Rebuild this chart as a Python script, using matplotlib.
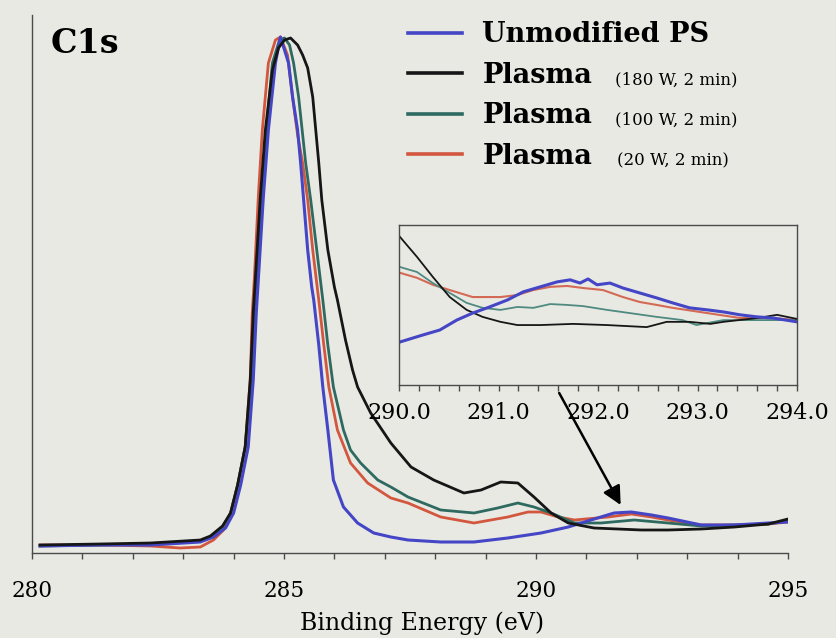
import numpy as np
import matplotlib
matplotlib.use("Agg")
import matplotlib.pyplot as plt
from matplotlib.ticker import MultipleLocator, FormatStrFormatter

plt.rcParams['font.family'] = 'DejaVu Serif'

# C1s spectra, binding energy (eV) and intensity (a.u.)
e_unmod = [280.16, 281.35, 282.35, 283.34, 283.60, 283.84, 284.00, 284.14, 284.29, 284.39,
           284.45, 284.49, 284.59, 284.69, 284.83, 284.93, 285.09, 285.17, 285.27, 285.33,
           285.39, 285.47, 285.55, 285.59, 285.69, 285.77, 285.87, 285.98, 286.18, 286.46,
           286.78, 287.12, 287.46, 288.11, 288.77, 289.44, 290.10, 290.64, 291.09, 291.55,
           291.89, 292.29, 292.62, 293.28, 293.94, 294.61, 295.0]
i_unmod = [7, 8, 8, 11, 16, 25, 40, 68, 106, 173,
           240, 273, 356, 423, 490, 516, 490, 456, 423, 390,
           353, 303, 266, 253, 208, 166, 123, 73, 46, 30,
           20, 16, 13, 11, 11, 15, 20, 26, 33, 40,
           41, 38, 35, 28, 28, 30, 31]

e_180w = [280.16, 281.35, 282.35, 283.34, 283.54, 283.78, 283.94, 284.08, 284.23, 284.33,
          284.39, 284.43, 284.53, 284.63, 284.77, 284.89, 285.01, 285.13, 285.27, 285.37,
          285.47, 285.57, 285.69, 285.75, 285.87, 286.00, 286.06, 286.22, 286.36, 286.46,
          286.56, 286.72, 287.12, 287.52, 287.97, 288.57, 288.91, 289.30, 289.64, 289.96,
          290.30, 290.64, 291.15, 292.09, 292.62, 293.28, 293.94, 294.61, 295.0]
i_180w = [8, 9, 10, 13, 17, 27, 40, 68, 106, 173,
          240, 273, 356, 423, 483, 505, 513, 515, 508, 498,
          485, 456, 390, 353, 303, 266, 253, 213, 183, 166,
          156, 140, 110, 86, 73, 60, 63, 71, 70, 56,
          40, 30, 25, 23, 23, 24, 26, 29, 34]

e_100w = [280.16, 281.35, 282.35, 283.34, 283.54, 283.78, 283.94, 284.08, 284.23, 284.35,
          284.41, 284.45, 284.55, 284.65, 284.77, 284.91, 285.01, 285.11, 285.19, 285.29,
          285.43, 285.53, 285.65, 285.77, 285.87, 285.98, 286.18, 286.32, 286.52, 286.86,
          287.12, 287.46, 288.11, 288.77, 289.24, 289.64, 289.96, 290.30, 290.76, 291.29,
          291.95, 292.62, 293.28, 293.94, 294.61, 295.0]
i_100w = [7, 8, 9, 12, 16, 26, 40, 68, 106, 173,
          240, 273, 356, 423, 490, 513, 515, 508, 490, 456,
          390, 353, 303, 253, 208, 166, 123, 103, 90, 73,
          66, 56, 43, 40, 45, 50, 46, 40, 30, 30,
          33, 30, 27, 28, 29, 32]

e_20w = [280.16, 281.35, 282.35, 282.94, 283.34, 283.60, 283.80, 283.94, 284.08, 284.23,
         284.33, 284.37, 284.41, 284.49, 284.57, 284.69, 284.83, 284.93, 285.07, 285.17,
         285.27, 285.37, 285.47, 285.57, 285.69, 285.79, 285.89, 286.06, 286.32, 286.66,
         287.12, 287.46, 288.11, 288.77, 289.44, 289.84, 290.10, 290.44, 290.76, 291.43,
         291.89, 292.29, 292.62, 293.28, 293.94, 294.61, 295.0]
i_20w = [8, 8, 7, 5, 6, 13, 23, 40, 68, 106,
         173, 240, 273, 356, 423, 490, 513, 516, 498, 456,
         418, 390, 353, 303, 253, 208, 166, 123, 90, 70,
         55, 50, 36, 30, 36, 41, 41, 36, 33, 36,
         39, 36, 33, 28, 28, 29, 31]

# inset: 290-294 eV region, expanded intensity
ie_unmod = [290.01, 290.24, 290.41, 290.58, 290.74, 290.91, 291.09, 291.25, 291.42, 291.59,
            291.72, 291.82, 291.90, 291.99, 292.12, 292.25, 292.42, 292.59, 292.75, 292.92,
            293.10, 293.26, 293.43, 293.60, 293.76, 294.0]
ii_unmod = [20.0, 22.4, 24.1, 27.5, 29.9, 32.0, 34.4, 37.2, 38.9, 40.6,
            41.3, 40.2, 41.6, 39.6, 40.2, 38.5, 36.8, 35.1, 33.4, 31.7,
            31.0, 30.3, 29.3, 28.6, 28.2, 26.9]

ie_180w = [290.01, 290.18, 290.34, 290.51, 290.68, 290.84, 291.02, 291.19, 291.42, 291.75,
           292.09, 292.49, 292.69, 292.92, 293.13, 293.26, 293.60, 293.80, 294.0]
ii_180w = [56.0, 49.2, 42.3, 35.4, 31.0, 28.6, 26.9, 25.8, 25.8, 26.2,
           25.8, 25.1, 26.9, 26.9, 26.2, 26.9, 28.2, 29.3, 27.9]

ie_100w = [290.01, 290.18, 290.34, 290.51, 290.68, 290.84, 291.02, 291.19, 291.35, 291.52,
           291.69, 291.85, 292.09, 292.32, 292.59, 292.85, 292.99, 293.26, 293.60, 294.0]
ii_100w = [45.7, 44.0, 40.2, 36.8, 33.4, 31.7, 31.0, 32.0, 31.7, 33.0,
           32.7, 32.3, 31.0, 29.9, 28.6, 27.5, 25.8, 27.5, 27.5, 27.5]

ie_20w = [290.01, 290.18, 290.34, 290.51, 290.74, 291.02, 291.19, 291.35, 291.52, 291.69,
          291.85, 292.05, 292.25, 292.42, 292.59, 292.75, 293.10, 293.43, 293.76, 294.0]
ii_20w = [43.7, 42.0, 39.6, 37.8, 35.4, 35.4, 36.1, 37.8, 38.9, 39.2,
          38.5, 37.8, 35.4, 33.7, 32.7, 31.7, 29.9, 28.2, 28.2, 27.5]

labels = ["Unmodified PS", "Plasma", "Plasma", "Plasma"]
conditions = ["(180 W, 2 min)", "(100 W, 2 min)", "(20 W, 2 min)"]

bg = '#e9e9e4'
c_blue = '#4446c6'
c_black = '#161616'
c_teal = '#2e6a60'
c_red = '#d2573e'
spine_c = '#4a4a4a'

fig = plt.figure(figsize=(8.36, 6.38), dpi=100, facecolor=bg)
ax = fig.add_axes([32/836, 1 - 553/638, 756/836, 538/638])
ax.set_facecolor('none')

l_red, = ax.plot(e_20w, i_20w, color=c_red, lw=2.0)
l_teal, = ax.plot(e_100w, i_100w, color=c_teal, lw=2.0)
l_blue, = ax.plot(e_unmod, i_unmod, color=c_blue, lw=2.2)
l_black, = ax.plot(e_180w, i_180w, color=c_black, lw=2.0)

ax.set_xlim(280, 295)
ax.set_ylim(0, 538)
for s in ['top', 'right']:
    ax.spines[s].set_visible(False)
for s in ['left', 'bottom']:
    ax.spines[s].set_color(spine_c)
    ax.spines[s].set_linewidth(1.0)
ax.set_yticks([])
ax.xaxis.set_major_locator(MultipleLocator(5))
ax.xaxis.set_minor_locator(MultipleLocator(1))
ax.tick_params(axis='x', which='both', direction='out', length=4.5, width=1.0,
               color=spine_c)
ax.tick_params(axis='x', which='major', labelsize=15.5, pad=15)
ax.set_xlabel("Binding Energy (eV)", fontsize=17, va='center')
ax.xaxis.set_label_coords((422 - 32) / 756, -(623 - 553) / 538)

ax.text(51/836, 1 - 53/638, "C1s", transform=fig.transFigure, fontsize=24,
        fontweight='bold', va='baseline')

leg = ax.legend([l_blue, l_black, l_teal, l_red], labels, loc='upper left',
                bbox_to_anchor=(408/836, 1 - 21/638), bbox_transform=fig.transFigure,
                frameon=False, borderpad=0, borderaxespad=0, handlelength=2.0,
                handletextpad=0.75, labelspacing=0.50,
                prop={'family': 'DejaVu Serif', 'weight': 'bold', 'size': 19.5})
for h in leg.get_lines():
    h.set_linewidth(2.6)

cond_y = [84, 124, 165]
cond_x = [615, 615, 617]
for cx, cy, txt in zip(cond_x, cond_y, conditions):
    fig.text(cx/836, 1 - cy/638, txt, fontsize=12, va='baseline')

# arrow pointing to the 292 eV feature
ax.annotate('', xy=(291.68, 48), xytext=(290.46, 160),
            arrowprops=dict(arrowstyle='-|>', lw=1.8, color='black', mutation_scale=28,
                            shrinkA=0, shrinkB=0))

# inset
axi = fig.add_axes([399/836, 1 - 385/638, 398/836, 160/638])
axi.set_facecolor('none')
axi.plot(ie_20w, ii_20w, color='#d46a55', lw=1.5)
axi.plot(ie_100w, ii_100w, color='#4f8a80', lw=1.3)
axi.plot(ie_180w, ii_180w, color=c_black, lw=1.3)
axi.plot(ie_unmod, ii_unmod, color=c_blue, lw=2.2)
axi.set_xlim(290, 294)
axi.set_ylim(5.25, 60.1)
axi.set_yticks([])
for s in axi.spines.values():
    s.set_color(spine_c)
    s.set_linewidth(1.0)
axi.xaxis.set_major_locator(MultipleLocator(1))
axi.xaxis.set_minor_locator(MultipleLocator(0.2))
axi.xaxis.set_major_formatter(FormatStrFormatter('%.1f'))
axi.tick_params(axis='x', which='both', direction='out', length=4.5, width=1.0,
                color=spine_c)
axi.tick_params(axis='x', which='major', labelsize=16, pad=8)

fig.savefig("out.png", dpi=100, facecolor=bg)
